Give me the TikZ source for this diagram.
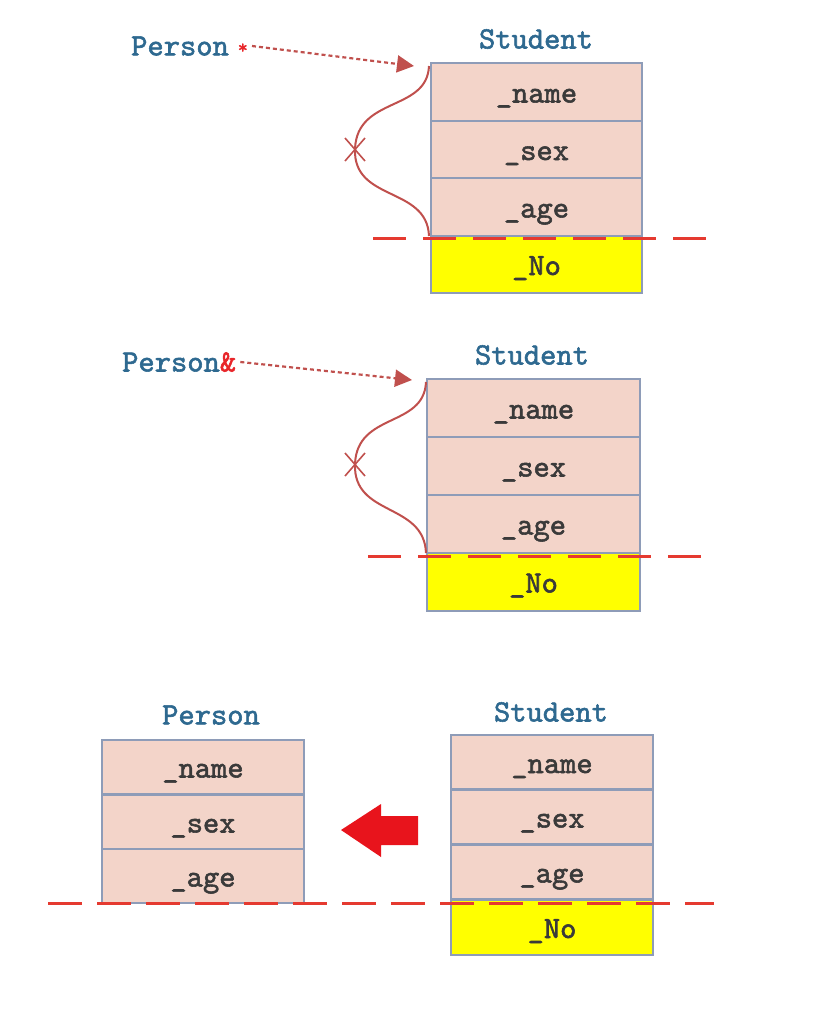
\documentclass[tikz,border=0pt]{standalone}
\usepackage{fontspec}
\newfontfamily\slab{lmmono10-regular.otf}[FakeBold=1.8]
\usetikzlibrary{arrows.meta}
\definecolor{pinkc}{HTML}{F3D4C9}
\definecolor{boxc}{HTML}{8E9CB8}
\definecolor{yelc}{HTML}{FFFF00}
\definecolor{lblc}{HTML}{2E6990}
\definecolor{txtc}{HTML}{3A3A3A}
\definecolor{curvec}{HTML}{C0504D}
\definecolor{dashc}{HTML}{E53A30}
\definecolor{bigc}{HTML}{E8141C}
\definecolor{starc}{HTML}{E8262A}
\begin{document}
\begin{tikzpicture}[x=1pt,y=-1pt,
  cellfont/.style={font=\slab\fontsize{31}{31}\selectfont},
  cell/.style={cellfont, draw=boxc, fill=pinkc, line width=2.2pt, text=txtc, inner sep=0pt, text height=21pt, text depth=0pt},
  cellA/.style={cell, minimum width=211pt, minimum height=57.5pt},
  cellB/.style={cell, minimum width=213pt, minimum height=58pt},
  cellP/.style={cell, minimum width=202pt, minimum height=54.7pt},
  cellS/.style={cell, minimum width=202pt, minimum height=55pt},
  extra/.style={fill=yelc},
  lbl/.style={cellfont, text=lblc, inner sep=0pt},
  ptr/.style={draw=curvec, line width=2.2pt, dash pattern=on 4pt off 3pt, -{Triangle[length=17pt,width=17pt]}},
  brace/.style={draw=curvec, line width=2pt},
  cut/.style={draw=dashc, line width=3pt, dash pattern=on 33pt off 17pt}
]
\useasboundingbox (0,0) rectangle (820,1031);

% ---------- Panel 1 ----------
\node[lbl] (st1) at (536,39) {Student};
\node[lbl, anchor=west] (pp1) at (131,46) {Person\hspace{9pt}\raisebox{2pt}{\textcolor{starc}{\fontsize{19}{19}\selectfont*}}};
\node[cellA] (a1) at (536.5,92) {\_name};
\node[cellA] (a2) at (536.5,149.5) {\_sex};
\node[cellA] (a3) at (536.5,207) {\_age};
\node[cellA, extra] (a4) at (536.5,264.5) {\_No};
\coordinate (t1) at (414,66);
\draw[ptr] ([xshift=4pt]pp1.east) -- (t1);
\coordinate (b1s) at (429,66);
\coordinate (b1m) at (355,149);
\coordinate (b1e) at (429,236);
\draw[brace] (b1s) .. controls (427,112) and (357,96) .. (b1m) .. controls (353,202) and (427,186) .. (b1e);
\draw[brace, line width=1.6pt] (345,138) -- (365,161) (365,138) -- (345,161);
\coordinate (c1a) at (373,238);
\coordinate (c1b) at (706,238);
\draw[cut] (c1a) -- (c1b);

% ---------- Panel 2 ----------
\node[lbl] (st2) at (532,355) {Student};
\node[lbl, anchor=west] (pp2) at (122,362) {Person\textcolor{starc}{\&}};
\node[cellB] (b1) at (533.5,408) {\_name};
\node[cellB] (b2) at (533.5,466) {\_sex};
\node[cellB] (b3) at (533.5,524) {\_age};
\node[cellB, extra] (b4) at (533.5,582) {\_No};
\coordinate (t2) at (412,380);
\draw[ptr] ([xshift=4pt]pp2.east) -- (t2);
\coordinate (b2s) at (426,382);
\coordinate (b2m) at (355,464);
\coordinate (b2e) at (426,553);
\draw[brace] (b2s) .. controls (424,428) and (357,412) .. (b2m) .. controls (353,517) and (424,502) .. (b2e);
\draw[brace, line width=1.6pt] (345,453) -- (365,476) (365,453) -- (345,476);
\coordinate (c2a) at (368,556);
\coordinate (c2b) at (706,556);
\draw[cut] (c2a) -- (c2b);

% ---------- Panel 3 ----------
\node[lbl] (pl3) at (211,715) {Person};
\node[cellP] (p1) at (203,767) {\_name};
\node[cellP] (p2) at (203,822) {\_sex};
\node[cellP] (p3) at (203,876) {\_age};
\node[lbl] (st3) at (551,712) {Student};
\node[cellS] (s1) at (552,762.5) {\_name};
\node[cellS] (s2) at (552,817) {\_sex};
\node[cellS] (s3) at (552,872) {\_age};
\node[cellS, extra] (s4) at (552,927.5) {\_No};
\fill[bigc] (418,816) -- (381,816) -- (381,804) -- (341,830) -- (381,857) -- (381,845) -- (418,845) -- cycle;
\coordinate (c3a) at (48,903);
\coordinate (c3b) at (714,903);
\draw[cut, dash pattern=on 34pt off 15pt] (c3a) -- (c3b);
\end{tikzpicture}
\end{document}
